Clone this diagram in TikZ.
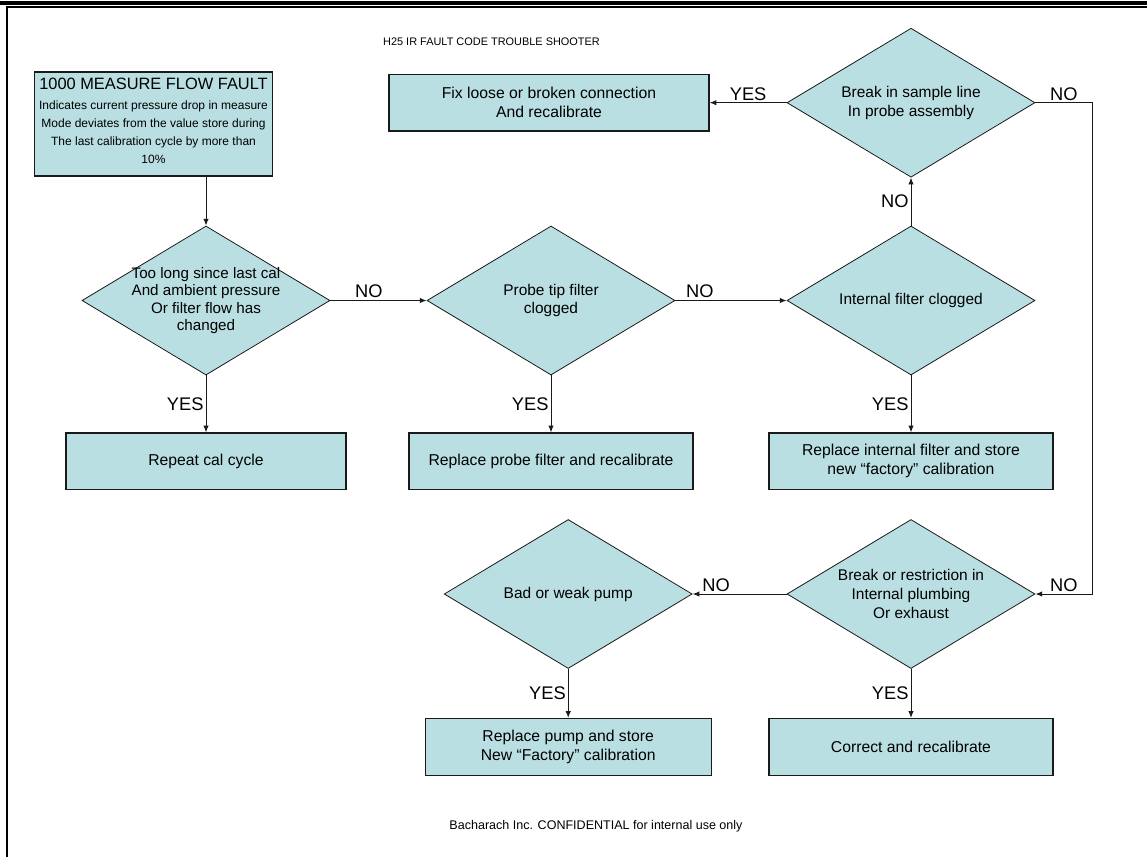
\documentclass[tikz,border=0pt]{standalone}
\usepackage{fontspec}
\setmainfont{Liberation Sans}
\usetikzlibrary{arrows.meta,positioning,shapes.geometric}
\definecolor{tealfill}{HTML}{BADFE2}
\definecolor{ink}{HTML}{1A1A1A}
\tikzset{
  actbox/.style={rectangle, draw=ink, fill=tealfill, line width=0.9pt, align=center,
                 inner sep=2pt, minimum width=213pt, minimum height=42.5pt,
                 font=\fontsize{11.8}{14.2}\selectfont},
  decide/.style={diamond, draw=ink, fill=tealfill, line width=0.6pt, align=center,
                 aspect=1.65, inner sep=-12pt, minimum width=186pt, minimum height=111.75pt,
                 font=\fontsize{11.6}{14.2}\selectfont},
  ans/.style={font=\fontsize{13.7}{16}\selectfont, inner sep=1.5pt},
  flow/.style={-{Latex[length=5pt,width=4pt]}, draw=ink, line width=0.75pt},
  smallnote/.style={font=\fontsize{9.4}{11}\selectfont},
}
\begin{document}
\begin{tikzpicture}[x=0.75pt,y=-0.75pt]
\useasboundingbox (0,0) rectangle (1147,857);
% page frame
\draw[line width=3pt] (0,2.5) -- (1147,2.5);
\draw[line width=1.5pt] (1147,7) -- (7,7) -- (7,857);
\node[smallnote, font=\fontsize{8.2}{10}\selectfont] (title) at (491.5,42) {H25 IR FAULT CODE TROUBLE SHOOTER};
\node[smallnote] (foot) at (596,826) {Bacharach Inc. CONFIDENTIAL for internal use only};
% fault box
\node[actbox, align=flush center, minimum width=178pt, minimum height=78pt, text width=176pt, inner sep=0.5pt] (fault) at (153.5,124)
 {{\fontsize{12.3}{14}\selectfont 1000 MEASURE FLOW FAULT\par}
  \vspace{1.5pt}
  \fontsize{9}{13.5}\selectfont
  Indicates current pressure drop in measure\\
  Mode deviates from the value store during\\
  The last calibration cycle by more than\\
  10\%\par\kern5pt};
% decisions
\node[decide, font=\fontsize{11.4}{13}\selectfont] (cal) at (206,300.5) {Too long since last cal\\And ambient pressure\\Or filter flow has\\changed};
\node[decide] (tip) at (551,300.5) {Probe tip filter\\clogged};
\node[decide] (intf) at (911,300.5) {Internal filter clogged};
\node[decide, above=36pt of intf] (line) {Break in sample line\\In probe assembly};
\node[decide] (plumb) at (911,594) {Break or restriction in\\Internal plumbing\\Or exhaust};
\node[decide, left=70.5pt of plumb] (pump) {Bad or weak pump};
% actions
\node[actbox, below=42.75pt of cal, minimum width=210pt] (repeat) {Repeat cal cycle};
\node[actbox, below=42.75pt of tip] (probe) {Replace probe filter and recalibrate};
\node[actbox, below=42.75pt of intf] (intrep) {Replace internal filter and store\\new “factory” calibration};
\node[actbox, left=57.75pt of line, minimum width=240pt] (fix) {Fix loose or broken connection\\And recalibrate};
\node[actbox, below=36.75pt of plumb] (correct) {Correct and recalibrate};
\node[actbox, below=36.75pt of pump, minimum width=214.5pt] (pumprep) {Replace pump and store\\New “Factory” calibration};
% connectors
\draw[flow] (cal.north |- fault.south) -- (cal.north);
\draw[flow] (cal.east) -- node[ans, above, pos=0.4] {NO} (tip.west);
\draw[flow] (tip.east) -- node[ans, above, pos=0.22] {NO} (intf.west);
\draw[flow] (intf.north) -- node[ans, left] {NO} (line.south);
\draw[flow] (line.west) -- node[ans, above] {YES} (fix.east);
\draw[flow] (line.east) -- node[ans, above] {NO} ++(57,0)
  |- node[ans, above, pos=0.75] {NO} (plumb.east);
\draw[flow] (plumb.west) -- node[ans, above, pos=0.75] {NO} (pump.east);
\draw[flow] (cal.south) -- node[ans, left] {YES} (repeat.north);
\draw[flow] (tip.south) -- node[ans, left] {YES} (probe.north);
\draw[flow] (intf.south) -- node[ans, left] {YES} (intrep.north);
\draw[flow] (plumb.south) -- node[ans, left] {YES} (correct.north);
\draw[flow] (pump.south) -- node[ans, left] {YES} (pumprep.north);
\end{tikzpicture}
\end{document}
